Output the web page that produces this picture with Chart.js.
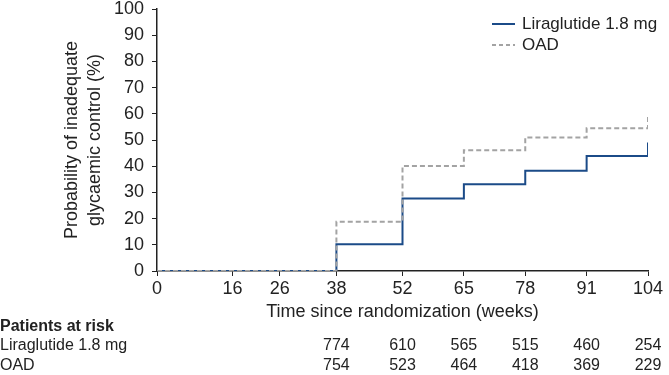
<!DOCTYPE html>
<html>
<head>
<meta charset="utf-8">
<script src="https://cdn.jsdelivr.net/npm/chart.js@4.4.0/dist/chart.umd.min.js"></script>
<style>
  html, body { margin: 0; padding: 0; background: #fff; }
  #wrap { width: 669px; height: 375px; position: relative; }
</style>
</head>
<body>
<div id="wrap"><canvas id="kmChart"></canvas></div>
<script>
// week positions where the curves step
const weeks = [0, 38, 52, 65, 78, 91, 104];
// probability of inadequate control (%) after each step
const liraValues = [0, 10.2, 27.7, 33.1, 38.3, 43.9, 49.0];
const oadValues = [0, 18.8, 40.1, 46.1, 51.0, 54.5, 59.0];

const xTicks = [0, 16, 26, 38, 52, 65, 78, 91, 104];
const yTicks = [0, 10, 20, 30, 40, 50, 60, 70, 80, 90, 100];

// patients at risk table
const riskWeeks = [38, 52, 65, 78, 91, 104];
const riskLira = [774, 610, 565, 515, 460, 254];
const riskOad = [754, 523, 464, 418, 369, 229];

const liraColor = '#1b4b88';
const oadColor = '#a3a3a3';
const axisColor = '#222';
const fontFamily = '"Liberation Sans", Arial, Helvetica, sans-serif';

const toPoints = (xs, ys) => xs.map((x, i) => ({ x: x, y: ys[i] }));

// draws legend and the patients-at-risk rows
const extrasPlugin = {
  id: 'extras',
  afterDraw(chart) {
    const ctx = chart.ctx;
    const xScale = chart.scales.x;
    ctx.save();

    // legend, top right
    ctx.font = '17px ' + fontFamily;
    ctx.textBaseline = 'middle';
    ctx.textAlign = 'left';
    ctx.lineWidth = 2;
    ctx.strokeStyle = liraColor;
    ctx.beginPath();
    ctx.moveTo(492, 24);
    ctx.lineTo(515, 24);
    ctx.stroke();
    ctx.fillStyle = '#222';
    ctx.fillText('Liraglutide 1.8 mg', 522, 24);

    ctx.strokeStyle = oadColor;
    ctx.setLineDash([4, 3]);
    ctx.beginPath();
    ctx.moveTo(492, 45);
    ctx.lineTo(515, 45);
    ctx.stroke();
    ctx.setLineDash([]);
    ctx.fillText('OAD', 522, 45);

    // patients at risk
    ctx.font = 'bold 16px ' + fontFamily;
    ctx.fillText('Patients at risk', 0, 327);
    ctx.font = '16px ' + fontFamily;
    ctx.fillText('Liraglutide 1.8 mg', 0, 346);
    ctx.fillText('OAD', 0, 366);
    ctx.textAlign = 'center';
    riskWeeks.forEach((w, i) => {
      const px = xScale.getPixelForValue(w);
      ctx.fillText(String(riskLira[i]), px, 346);
      ctx.fillText(String(riskOad[i]), px, 366);
    });
    ctx.restore();
  }
};

const ctx = document.getElementById('kmChart').getContext('2d');

const kmChart = new Chart(ctx, {
  type: 'line',
  data: {
    datasets: [
      {
        label: 'OAD',
        data: toPoints(weeks, oadValues),
        borderColor: oadColor,
        borderWidth: 2,
        borderDash: [5, 3],
        stepped: true,
        pointRadius: 0,
        fill: false,
      },
      {
        label: 'Liraglutide 1.8 mg',
        data: toPoints(weeks, liraValues),
        borderColor: liraColor,
        borderWidth: 2,
        stepped: true,
        pointRadius: 0,
        fill: false,
      },
    ],
  },
  options: {
    responsive: true,
    maintainAspectRatio: false,
    animation: false,
    layout: { padding: { top: 9, right: 21, bottom: 52, left: 60 } },
    scales: {
      x: {
        type: 'linear',
        min: 0,
        max: 104,
        afterBuildTicks: (scale) => { scale.ticks = xTicks.map(v => ({ value: v })); },
        afterFit: (scale) => { scale.height = 52; },
        grid: { display: true, drawOnChartArea: false, drawTicks: true, tickLength: 5, color: axisColor },
        border: { display: true, color: axisColor, width: 1.5 },
        ticks: { color: '#222', font: { size: 18, family: fontFamily }, padding: 2, maxRotation: 0, autoSkip: false },
        title: { display: true, text: 'Time since randomization (weeks)', color: '#222', font: { size: 18, family: fontFamily }, padding: { top: 0, bottom: 0 } },
      },
      y: {
        min: 0,
        max: 100,
        afterBuildTicks: (scale) => { scale.ticks = yTicks.map(v => ({ value: v })); },
        afterFit: (scale) => { scale.width = 97; scale.paddingTop = 0; },
        grid: { display: true, drawOnChartArea: false, drawTicks: true, tickLength: 5, color: axisColor },
        border: { display: true, color: axisColor, width: 1.5 },
        ticks: { color: '#222', font: { size: 18, family: fontFamily }, padding: 8 },
        title: { display: true, text: ['Probability of inadequate', 'glycaemic control (%)'], color: '#222', font: { size: 18, family: fontFamily, lineHeight: 1.3 }, padding: 0 },
      },
    },
    plugins: {
      legend: { display: false },
      tooltip: { enabled: false },
    },
  },
  plugins: [extrasPlugin],
});
</script>
</body>
</html>
